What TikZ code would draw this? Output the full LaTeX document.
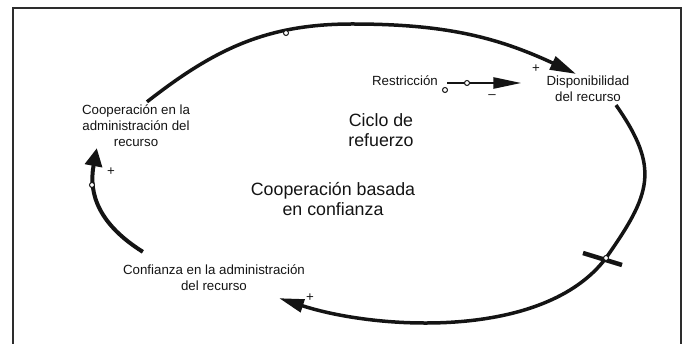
\documentclass[tikz,border=0pt]{standalone}
\usepackage{fontspec}
\setmainfont{Liberation Sans}
\usepackage{tikz}
\usetikzlibrary{arrows.meta,positioning,calc}
\definecolor{FrameGray}{RGB}{45,45,45}
\definecolor{InkColor}{RGB}{20,20,20}

\tikzset{
  etiqueta/.style={font=\fontsize{13.3}{16}\selectfont, align=center, inner sep=0pt, text=InkColor},
  titulo/.style={font=\fontsize{17.8}{20.5}\selectfont, align=center, inner sep=0pt, text=InkColor},
  signo/.style={font=\fontsize{13.3}{16}\selectfont, inner sep=0pt, text=InkColor},
  lazo/.style={line width=3.5pt, InkColor},
  marca/.style={circle, draw=InkColor, fill=white, line width=1pt, inner sep=0pt, minimum size=5pt}
}

\begin{document}
\begin{tikzpicture}[x=1pt,y=-1pt]
        \useasboundingbox (0,0) rectangle (686,344);
        \draw[FrameGray, line width=1.8pt] (13,350)--(13,8)--(681,8)--(681,350);
        % variables
        \node[etiqueta] (coop) at (136,126) {Cooperación en la\\administración del\\recurso};
        \node[etiqueta] (disp) at (588,89) {Disponibilidad\\del recurso};
        \node[etiqueta] (conf) at (214,278) {Confianza en la administración\\del recurso};
        \node[etiqueta] (restr) at (405,81) {Restricción};
        \node[titulo] (ciclo) at (381,130) {Ciclo de\\refuerzo};
        \node[titulo] (base) at (333,199) {Cooperación basada\\en confianza};
        % ciclo
        \draw[lazo, -{Triangle[length=26pt,width=14pt]}]
          ([shift={(11,-3)}]coop.north) to[out=38,in=180] (352,24) coordinate (cima)
          to[out=0,in=155] ([shift={(-12,-2)}]disp.north);
        \draw[lazo] ([shift={(28,3)}]disp.south) to[out=-55,in=55,looseness=1.3] (606,258) coordinate (cruce);
        \draw[lazo, -{Triangle[length=25pt,width=13pt]}]
          (cruce) to[out=233,in=-18,looseness=0.8] ([shift={(65,7)}]conf.south);
        \draw[line width=4pt, InkColor, -{Triangle[length=18pt,width=17pt]}]
          ([shift={(20,-13)}]conf.north west) .. controls (100,225) and (88,195) .. ([shift={(15,1)}]coop.south west);
        % retraso
        \draw[line width=4.5pt, InkColor] ([shift={(-23,-5)}]cruce) -- ([shift={(16,7)}]cruce);
        % restriccion
        \draw[line width=2.5pt, InkColor, -{Triangle[length=28pt,width=11pt]}]
          ([shift={(9,2)}]restr.east) -- ([shift={(-25,-6)}]disp.west);
        % marcas
        \node[marca] (m1) at (286,33) {};
        \node[marca] (m2) at (92,185) {};
        \node[marca] (m3) at (cruce) {};
        \node[marca] (m4) at (467,83) {};
        \node[marca] (m5) at (445,90) {};
        % signos
        \node[signo] (s1) at (536,69) {+};
        \node[signo] (s2) at (111,172) {+};
        \node[signo] (s3) at (310,298) {+};
        \node[signo] (s4) at (492,97) {--};
      \end{tikzpicture}
\end{document}
